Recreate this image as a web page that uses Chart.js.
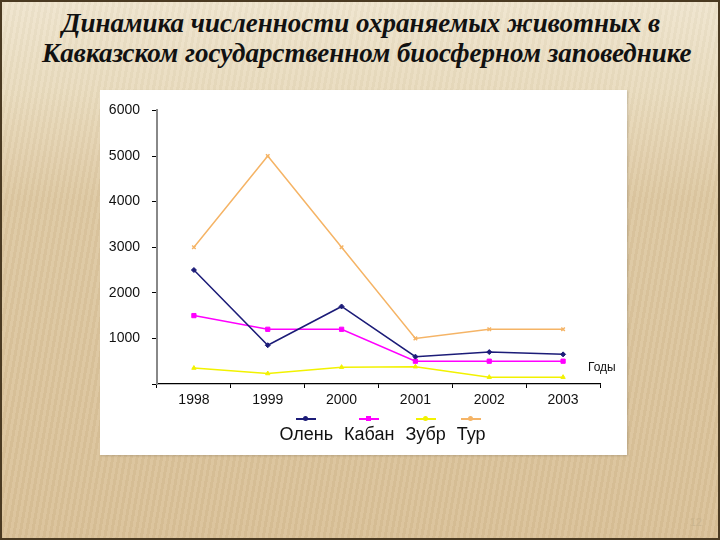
<!DOCTYPE html>
<html lang="ru">
<head>
<meta charset="utf-8">
<script src="https://cdn.jsdelivr.net/npm/chart.js@4/dist/chart.umd.min.js"></script>
<style>
  html, body { margin: 0; padding: 0; }
  body {
    width: 720px; height: 540px; position: relative; overflow: hidden;
    box-sizing: border-box; border: 2px solid #4a3a22;
    background:
      repeating-linear-gradient(100deg, rgba(255,255,255,0.07) 0 3px, rgba(0,0,0,0.02) 3px 6px),
      linear-gradient(180deg, #efe4cd 0px, #e9dbbd 90px, #ddc7a0 200px, #d9c096 540px);
  }
  .title {
    position: absolute; left: 0; top: 6px; width: 720px;
    font-family: "Liberation Serif", "DejaVu Serif", serif;
    font-style: italic; font-weight: bold; font-size: 27px; line-height: 30px;
    color: #111;
  }
  .title div { white-space: nowrap; }
  .panel {
    position: absolute; left: 98px; top: 88px; width: 527px; height: 365px;
    background: #fff; box-shadow: 1px 1px 2px rgba(0,0,0,0.15);
  }
  .panel canvas { position: absolute; left: 0; top: 0; }
  #legend {
    position: absolute; left: 38px; top: 324px; width: 489px;
    display: flex; justify-content: center; gap: 11px;
    font-family: "Liberation Sans", Arial, sans-serif; font-size: 18px; color: #111;
  }
  .lg-item { display: flex; flex-direction: column; align-items: center; }
  .lg-mark { position: relative; width: 20px; height: 10px; }
  .lg-mark .ln { position: absolute; left: 0; right: 0; top: 4px; height: 2px; }
  .lg-mark .pt { position: absolute; left: 7px; top: 2px; width: 5px; height: 5px; }
  .pagenum {
    position: absolute; right: 16px; bottom: 10px;
    font-family: "Liberation Sans", sans-serif; font-size: 11px; color: #cbb58e;
  }
</style>
</head>
<body>
<div class="title">
  <div style="margin-left:60px">Динамика численности охраняемых животных в</div>
  <div style="margin-left:40px">Кавказском государственном биосферном заповеднике</div>
</div>
<div class="panel">
  <canvas id="chart" width="527" height="365"></canvas>
  <div id="legend"></div>
</div>
<div class="pagenum">12</div>
<script>
// данные
const years = ['1998', '1999', '2000', '2001', '2002', '2003'];
const olen  = [2500, 850, 1700, 600, 700, 650];
const kaban = [1500, 1200, 1200, 500, 500, 500];
const zubr  = [350, 230, 370, 380, 150, 150];
const tur   = [3000, 5000, 3000, 1000, 1200, 1200];

const seriesNames  = ['Олень', 'Кабан', 'Зубр', 'Тур'];
const seriesColors = ['#1c1c78', '#ff00ff', '#f2f200', '#f5b466'];
const seriesPoints = ['rectRot', 'rect', 'triangle', 'crossRot'];
const seriesData   = [olen, kaban, zubr, tur];

const yTicks = [0, 1000, 2000, 3000, 4000, 5000, 6000];

// подпись "Годы" справа от оси X
const axisLabelPlugin = {
  id: 'axisLabel',
  afterDraw(chart) {
    const { ctx, chartArea } = chart;
    ctx.save();
    ctx.font = '12px "Liberation Sans", Arial, sans-serif';
    ctx.fillStyle = '#111';
    ctx.textAlign = 'left';
    ctx.textBaseline = 'middle';
    ctx.fillText('Годы', chartArea.right - 12, chartArea.bottom - 16);
    ctx.restore();
  }
};

const ctx = document.getElementById('chart').getContext('2d');
const chart = new Chart(ctx, {
  type: 'line',
  data: {
    labels: years,
    datasets: seriesNames.map((name, i) => ({
      label: name,
      data: seriesData[i],
      borderColor: seriesColors[i],
      backgroundColor: seriesColors[i],
      borderWidth: 1.5,
      pointStyle: seriesPoints[i],
      pointRadius: i === 1 ? 3 : 2.5,
      pointBorderWidth: i === 3 ? 1.5 : 1,
      tension: 0
    }))
  },
  options: {
    responsive: false,
    animation: false,
    layout: { padding: { top: 12, right: 27, left: 0, bottom: 0 } },
    plugins: {
      legend: { display: false },
      tooltip: { enabled: false }
    },
    scales: {
      x: {
        offset: true,
        grid: { display: true, drawOnChartArea: false, tickLength: 4, color: '#000', offset: true },
        border: { color: '#000', width: 1.2 },
        ticks: {
          color: '#111',
          padding: 4,
          font: { family: '"Liberation Sans", Arial, sans-serif', size: 14 }
        },
        afterFit: (scale) => { scale.height = 71; }
      },
      y: {
        min: 0,
        max: 6000,
        grid: { display: true, drawOnChartArea: false, tickLength: 5, color: '#000' },
        border: { color: '#888', width: 2 },
        afterBuildTicks: (scale) => { scale.ticks = yTicks.map(v => ({ value: v })); },
        ticks: {
          color: '#111',
          padding: 12,
          font: { family: '"Liberation Sans", Arial, sans-serif', size: 14 },
          callback: (val) => (val === 0 ? '' : String(val))
        },
        afterFit: (scale) => { scale.width = 57; }
      }
    }
  },
  plugins: [axisLabelPlugin]
});

// легенда: маркер над подписью
const $legend = document.getElementById('legend');
chart.data.datasets.forEach((ds, i) => {
  const item = document.createElement('div');
  item.className = 'lg-item';
  const round = seriesPoints[i] === 'rect' ? '0' : '50%';
  item.innerHTML =
    `<div class="lg-mark"><div class="ln" style="background:${ds.borderColor}"></div>` +
    `<div class="pt" style="background:${ds.borderColor};border-radius:${round}"></div></div>` +
    `<span>${ds.label}</span>`;
  $legend.appendChild(item);
});
</script>
</body>
</html>
